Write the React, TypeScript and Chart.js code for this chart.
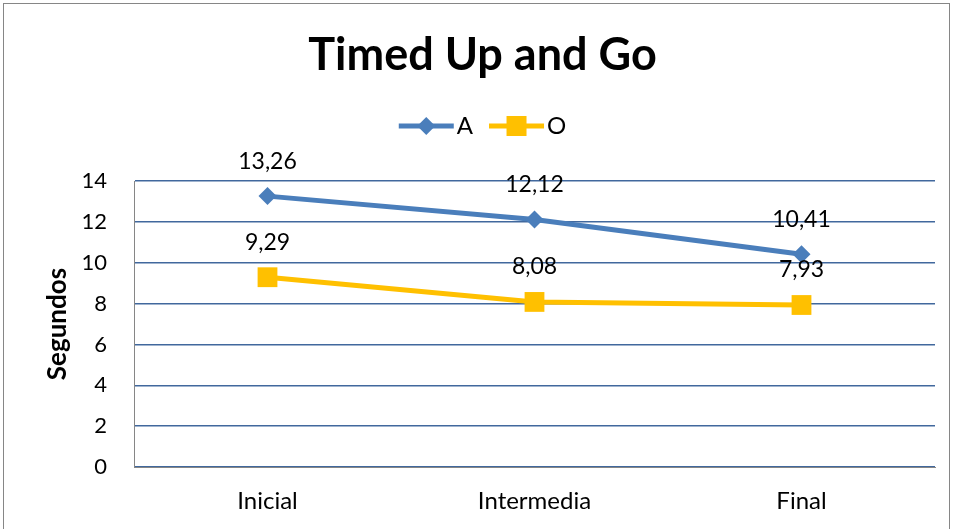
import React, { useEffect, useRef } from "react";
import { Chart, registerables } from "chart.js";

Chart.register(...registerables);

const categories = ["Inicial", "Intermedia", "Final"];
const seriesA = [13.26, 12.12, 10.41];
const seriesO = [9.29, 8.08, 7.93];
const seriesNames = ["A", "O"];
const yTicks = [0, 2, 4, 6, 8, 10, 12, 14];

const FONT = "Lato, 'Open Sans', sans-serif";
const BLUE = "#4a7ebb";
const YELLOW = "#ffc000";
const GRID = "#41689d";
const AXIS = "#868686";
const LEGEND_FONT = 24;
const LEGEND_LINE = 55;

const fmt = (v: number) => v.toFixed(2).replace(".", ",");

const bgPlugin = {
  id: "bgBorder",
  beforeDraw(chart: any) {
    const ctx = chart.ctx;
    ctx.save();
    ctx.fillStyle = "#ffffff";
    ctx.fillRect(0, 0, chart.width, chart.height);
    ctx.strokeStyle = AXIS;
    ctx.lineWidth = 1;
    ctx.strokeRect(3.5, 3.5, chart.width - 7, chart.height + 20);
    ctx.restore();
  },
};

const legendSpacePlugin = {
  id: "legendSpace",
  beforeUpdate(chart: any) {
    const legend = chart.legend;
    if (legend && !legend._patchedFit) {
      const orig = legend.fit;
      legend.fit = function () {
        orig.call(this);
        this.height += 33;
      };
      legend._patchedFit = true;
    }
  },
};

const labelPlugin = {
  id: "valueLabels",
  afterDatasetsDraw(chart: any) {
    const ctx = chart.ctx;
    ctx.save();
    ctx.font = `23px ${FONT}`;
    ctx.fillStyle = "#000000";
    ctx.textAlign = "center";
    ctx.textBaseline = "middle";
    chart.data.datasets.forEach((ds: any, i: number) => {
      const meta = chart.getDatasetMeta(i);
      meta.data.forEach((pt: any, j: number) => {
        ctx.fillText(fmt(ds.data[j]), pt.x, pt.y - 35);
      });
    });
    ctx.restore();
  },
};

const legendMarkerPlugin = {
  id: "legendMarkers",
  afterDraw(chart: any) {
    const legend = chart.legend;
    if (!legend || !legend.legendHitBoxes) return;
    const ctx = chart.ctx;
    legend.legendHitBoxes.forEach((hb: any, i: number) => {
      const ds = chart.data.datasets[i];
      const x0 = hb.left;
      const cx = x0 + LEGEND_LINE / 2;
      const cy = hb.top + LEGEND_FONT / 2;
      ctx.save();
      ctx.fillStyle = ds.borderColor;
      ctx.fillRect(x0, cy - 2.5, LEGEND_LINE, 5);
      ctx.beginPath();
      if (ds.pointStyle === "rectRot") {
        const r = 9;
        ctx.moveTo(cx, cy - r);
        ctx.lineTo(cx + r, cy);
        ctx.lineTo(cx, cy + r);
        ctx.lineTo(cx - r, cy);
        ctx.closePath();
      } else {
        ctx.rect(cx - 10, cy - 10, 20, 20);
      }
      ctx.fill();
      ctx.restore();
    });
  },
};

export default function App() {
  const ref = useRef<HTMLCanvasElement | null>(null);
  useEffect(() => {
    document.body.style.margin = "0";
    const chart = new Chart(ref.current as HTMLCanvasElement, {
      type: "line",
      data: {
        labels: categories,
        datasets: [
          {
            label: seriesNames[0],
            data: seriesA,
            borderColor: BLUE,
            backgroundColor: BLUE,
            borderWidth: 5,
            pointStyle: "rectRot",
            pointRadius: 9,
            pointBorderWidth: 0,
            tension: 0,
          },
          {
            label: seriesNames[1],
            data: seriesO,
            borderColor: YELLOW,
            backgroundColor: YELLOW,
            borderWidth: 5,
            pointStyle: "rect",
            pointRadius: 14,
            pointBorderWidth: 0,
            tension: 0,
          },
        ],
      },
      options: {
        animation: false,
        responsive: false,
        layout: { padding: { top: 0, left: 30, right: 18, bottom: 0 } },
        plugins: {
          tooltip: { enabled: false },
          title: {
            display: true,
            text: "Timed Up and Go",
            color: "#000000",
            font: { family: FONT, size: 45, weight: "bold" },
            padding: { top: 28, bottom: 16 },
          },
          legend: {
            display: true,
            labels: {
              boxWidth: 46,
              boxHeight: 5,
              padding: 16,
              color: "#000000",
              font: { family: FONT, size: LEGEND_FONT },
              generateLabels: (chart: any) =>
                chart.data.datasets.map((ds: any, i: number) => ({
                  text: ds.label,
                  fillStyle: "rgba(0,0,0,0)",
                  strokeStyle: "rgba(0,0,0,0)",
                  lineWidth: 0,
                  hidden: false,
                  datasetIndex: i,
                  fontColor: "#000000",
                })),
            },
          },
        },
        scales: {
          x: {
            offset: true,
            grid: { display: false, drawTicks: false },
            border: { display: true, color: AXIS, width: 1 },
            ticks: {
              color: "#000000",
              padding: 20,
              font: { family: FONT, size: 24 },
            },
            afterFit: (scale: any) => {
              scale.height = 62;
            },
          },
          y: {
            min: 0,
            max: 14,
            afterBuildTicks: (scale: any) => {
              scale.ticks = yTicks.map((v) => ({ value: v }));
            },
            afterFit: (scale: any) => {
              scale.width = 104;
            },
            grid: { display: true, color: GRID, lineWidth: 1.5, drawTicks: false },
            border: { display: true, color: AXIS, width: 1 },
            ticks: {
              color: "#000000",
              padding: 27,
              font: { family: FONT, size: 22 },
            },
            title: {
              display: true,
              text: "Segundos",
              color: "#000000",
              font: { family: FONT, size: 26, weight: "bold" },
              padding: { top: 12, bottom: 0 },
            },
          },
        },
      },
      plugins: [bgPlugin, legendSpacePlugin, labelPlugin, legendMarkerPlugin],
    } as any);
    return () => chart.destroy();
  }, []);
  return (
    <div style={{ width: 953, height: 529, overflow: "hidden" }}>
      <canvas ref={ref} width={953} height={529} style={{ display: "block" }} />
    </div>
  );
}
